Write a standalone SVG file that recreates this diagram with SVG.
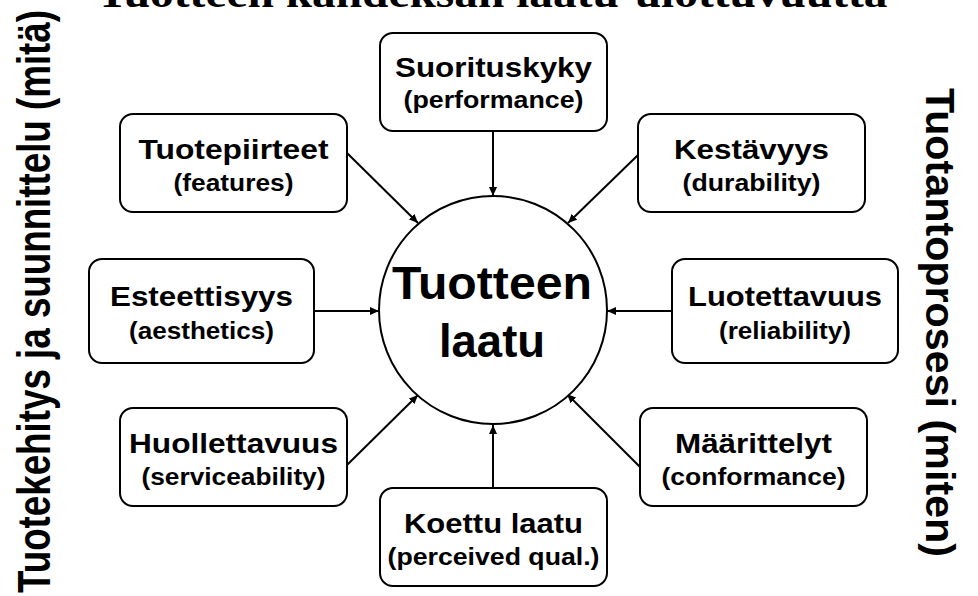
<svg xmlns="http://www.w3.org/2000/svg" width="978" height="596" viewBox="0 0 978 596">
<defs>
<style>
.box{fill:#fff;stroke:#000;stroke-width:2}
.t1{font-family:"Liberation Sans",Arial,sans-serif;font-weight:bold;font-size:28px;text-anchor:middle;fill:#000}
.t2{font-family:"Liberation Sans",Arial,sans-serif;font-weight:bold;font-size:23px;text-anchor:middle;fill:#000}
.side{font-family:"Liberation Sans",Arial,sans-serif;font-weight:bold;text-anchor:middle;fill:#000}
.conn{stroke:#000;stroke-width:2;fill:none;marker-end:url(#ah)}
</style>
<marker id="ah" markerUnits="userSpaceOnUse" markerWidth="10" markerHeight="8" refX="9" refY="4" orient="auto">
<path d="M0,0 L9,4 L0,8 z" fill="#000"/>
</marker>
</defs>
<rect width="978" height="596" fill="#fff"/>
<text x="492" y="6.5" font-family="'Liberation Serif','Times New Roman',serif" font-weight="bold" font-size="40" text-anchor="middle" textLength="791" lengthAdjust="spacingAndGlyphs">Tuotteen kahdeksan laatu-ulottuvuutta</text>
<text class="side" font-size="36.5" transform="translate(50,301.5) rotate(-90) scale(1,1.28)" textLength="583" lengthAdjust="spacingAndGlyphs">Tuotekehitys ja suunnittelu (mitä)</text>
<text class="side" font-size="41" transform="translate(926,322.5) rotate(90)" textLength="469" lengthAdjust="spacingAndGlyphs">Tuotantoprosesi (miten)</text>
<g id="connectors">
<line class="conn" x1="493" y1="131" x2="493" y2="196"/>
<line class="conn" x1="347" y1="153" x2="418" y2="223"/>
<line class="conn" x1="638" y1="155" x2="568" y2="223"/>
<line class="conn" x1="314" y1="311" x2="379" y2="311"/>
<line class="conn" x1="672" y1="311" x2="607" y2="311"/>
<line class="conn" x1="347" y1="465" x2="418" y2="395"/>
<line class="conn" x1="493" y1="488" x2="493" y2="425"/>
<line class="conn" x1="640" y1="467" x2="567" y2="394"/>
</g>
<g id="center">
<circle cx="493" cy="310" r="114" fill="#fff" stroke="#000" stroke-width="2"/>
<text x="492" y="299" font-family="'Liberation Sans',Arial,sans-serif" font-weight="bold" font-size="46" text-anchor="middle" textLength="200" lengthAdjust="spacingAndGlyphs">Tuotteen</text>
<text x="492" y="357" font-family="'Liberation Sans',Arial,sans-serif" font-weight="bold" font-size="46" text-anchor="middle" textLength="106" lengthAdjust="spacingAndGlyphs">laatu</text>
</g>
<g id="suorituskyky">
<rect class="box" x="380" y="33" width="227" height="98" rx="13"/>
<text class="t1" x="493.5" y="77" textLength="197" lengthAdjust="spacingAndGlyphs">Suorituskyky</text>
<text class="t2" x="493.5" y="108" textLength="180" lengthAdjust="spacingAndGlyphs">(performance)</text>
</g>
<g id="tuotepiirteet">
<rect class="box" x="120" y="114" width="227" height="98" rx="13"/>
<text class="t1" x="233.5" y="159" textLength="190" lengthAdjust="spacingAndGlyphs">Tuotepiirteet</text>
<text class="t2" x="233.5" y="191" textLength="120" lengthAdjust="spacingAndGlyphs">(features)</text>
</g>
<g id="kestavyys">
<rect class="box" x="638" y="114" width="227" height="98" rx="13"/>
<text class="t1" x="751.5" y="159" textLength="155" lengthAdjust="spacingAndGlyphs">Kestävyys</text>
<text class="t2" x="751.5" y="191" textLength="138" lengthAdjust="spacingAndGlyphs">(durability)</text>
</g>
<g id="esteettisyys">
<rect class="box" x="89" y="259" width="225" height="104" rx="13"/>
<text class="t1" x="201.5" y="306" textLength="183" lengthAdjust="spacingAndGlyphs">Esteettisyys</text>
<text class="t2" x="201.5" y="339" textLength="145" lengthAdjust="spacingAndGlyphs">(aesthetics)</text>
</g>
<g id="luotettavuus">
<rect class="box" x="672" y="259" width="226" height="104" rx="13"/>
<text class="t1" x="785" y="306" textLength="194" lengthAdjust="spacingAndGlyphs">Luotettavuus</text>
<text class="t2" x="785" y="339" textLength="132" lengthAdjust="spacingAndGlyphs">(reliability)</text>
</g>
<g id="huollettavuus">
<rect class="box" x="120" y="408" width="227" height="98" rx="13"/>
<text class="t1" x="233.5" y="453" textLength="209" lengthAdjust="spacingAndGlyphs">Huollettavuus</text>
<text class="t2" x="233.5" y="485" textLength="184" lengthAdjust="spacingAndGlyphs">(serviceability)</text>
</g>
<g id="koettu">
<rect class="box" x="380" y="488" width="227" height="98" rx="13"/>
<text class="t1" x="493.5" y="533" textLength="179" lengthAdjust="spacingAndGlyphs">Koettu laatu</text>
<text class="t2" x="493.5" y="565" textLength="212" lengthAdjust="spacingAndGlyphs">(perceived qual.)</text>
</g>
<g id="maarittelyt">
<rect class="box" x="640" y="408" width="227" height="98" rx="13"/>
<text class="t1" x="753.5" y="453" textLength="157" lengthAdjust="spacingAndGlyphs">Määrittelyt</text>
<text class="t2" x="753.5" y="485" textLength="184" lengthAdjust="spacingAndGlyphs">(conformance)</text>
</g>
</svg>
